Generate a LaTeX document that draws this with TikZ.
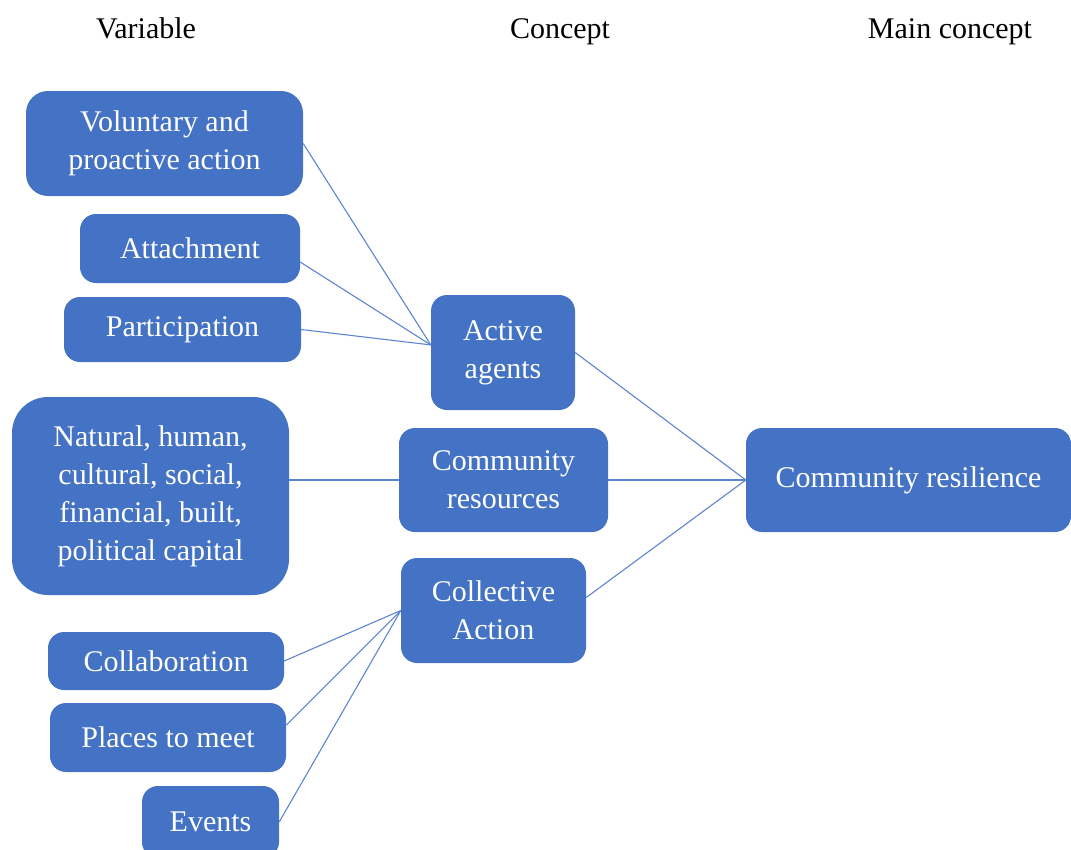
\documentclass[tikz,border=0pt]{standalone}
\usepackage{fontspec}
\setmainfont{Liberation Serif}
\usepackage{tikz}

\definecolor{boxblue}{RGB}{68,114,196}
\definecolor{lineblue}{RGB}{92,133,209}

\tikzset{
	box/.style={fill=boxblue, text=white, align=center, inner sep=0pt, rounded corners=16pt, font=\fontsize{30}{38}\selectfont},
	head/.style={anchor=base, font=\fontsize{30}{38}\selectfont},
	link/.style={draw=lineblue, line width=1.1pt}
}

\begin{document}
\begin{tikzpicture}[x=1pt, y=-1pt]

\useasboundingbox (0,0) rectangle (1071,849);

% column headings
\node[head] (hvar) at (146,38) {Variable};
\node[head] (hcon) at (560,38) {Concept};
\node[head] (hmain) at (950,38) {Main concept};

% variables
\node[box, rounded corners=22pt, minimum width=277pt, minimum height=105pt] (vol) at (164.5,143.5) {Voluntary and\\proactive action};
\node[box, minimum width=220pt, minimum height=69pt] (att) at (190,248.5) {Attachment};
\node[box, minimum width=237pt, minimum height=65pt] (par) at (182.5,329.5) {Participation};
\node[box, rounded corners=36pt, minimum width=277pt, minimum height=198pt] (nat) at (150.5,496) {Natural, human,\\cultural, social,\\financial, built,\\political capital};
\node[box, minimum width=236pt, minimum height=58pt] (col) at (166,661) {Collaboration};
\node[box, minimum width=236pt, minimum height=69pt] (plc) at (168,737.5) {Places to meet};
\node[box, minimum width=137pt, minimum height=72pt] (evt) at (210.5,822) {Events};

% concepts
\node[box, minimum width=144pt, minimum height=115pt] (act) at (503,352.5) {Active\\agents};
\node[box, minimum width=209pt, minimum height=104pt] (res) at (503.5,480) {Community\\resources};
\node[box, minimum width=185pt, minimum height=105pt] (cola) at (493.5,610.5) {Collective\\Action};

% main concept
\node[box, minimum width=325pt, minimum height=104pt] (main) at (908.5,480) {Community resilience};

% links
\foreach \a in {vol.east, att.-7, par.east}
	\draw[link] (\a) -- (act.174);
\draw[link] (nat.east |- res.west) -- (res.west);
\foreach \a in {col.east, plc.6, evt.east}
	\draw[link] (\a) -- (cola.west);
\foreach \a in {act.east, res.east, cola.8}
	\draw[link] (\a) -- (main.west);

\end{tikzpicture}
\end{document}
